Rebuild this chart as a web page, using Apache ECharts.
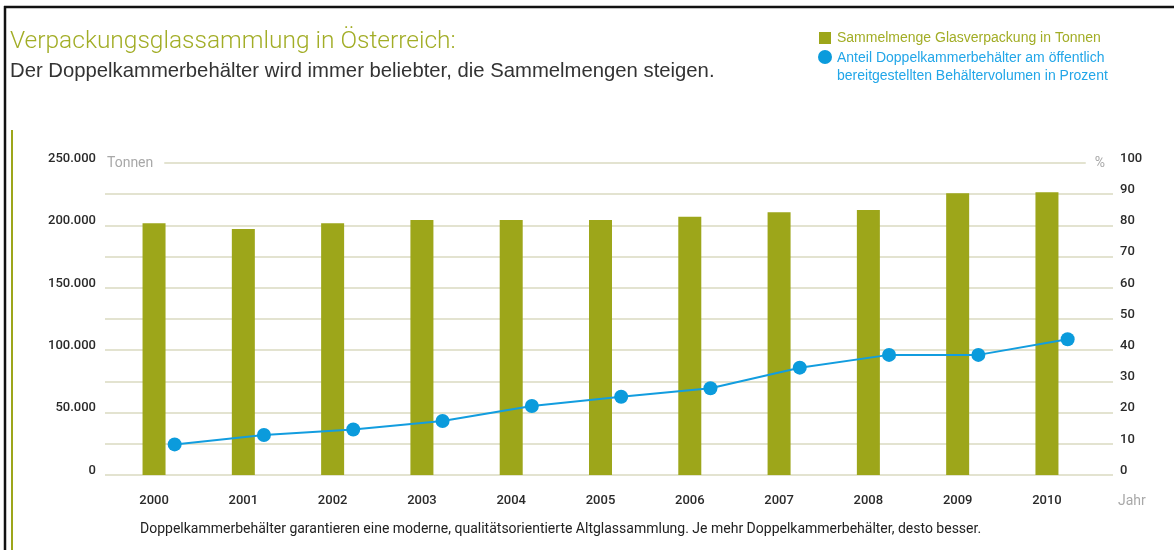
<!DOCTYPE html>
<html>
<head>
<meta charset="utf-8">
<title>Verpackungsglassammlung in Österreich</title>
<script src="https://cdn.jsdelivr.net/npm/echarts@6/dist/echarts.min.js"></script>
<style>
  html, body { margin: 0; padding: 0; background: #fff; }
  #chart { width: 1174px; height: 550px; }
</style>
</head>
<body>
<div id="chart"></div>
<script>
// data
const years = ['2000', '2001', '2002', '2003', '2004', '2005', '2006', '2007', '2008', '2009', '2010'];
const tonnes = [201700, 197100, 201700, 204300, 204300, 204300, 207000, 210500, 212300, 225700, 226500];
const sharePct = [9.8, 12.8, 14.6, 17.3, 22.1, 25.1, 27.8, 34.4, 38.5, 38.5, 43.5];

const OLIVE = '#9da61a';
const BLUE = '#129ddf';
const GRID_LINE = '#dadac0';
const narrow = 'Roboto, sans-serif';

const fmtDE = (v) => String(v).replace(/\B(?=(\d{3})+(?!\d))/g, '.');

const chart = echarts.init(document.getElementById('chart'));

const plotTop = 163, plotBottom = 75;

chart.setOption({
  animation: false,
  grid: [
    // grid 0: gridlines + visible value axes
    { left: 105, right: 61, top: plotTop, bottom: plotBottom },
    // grid 1: bars
    { left: 109.4, right: 82.4, top: plotTop, bottom: plotBottom },
    // grid 2: line, drawn a bit right of the bars
    { left: 130, right: 61.7, top: plotTop, bottom: plotBottom }
  ],
  xAxis: [
    {
      gridIndex: 0, type: 'category', data: years,
      axisLine: { show: false }, axisTick: { show: false }, axisLabel: { show: false },
      name: 'Jahr', nameLocation: 'end', nameGap: 5,
      nameTextStyle: { color: '#a8a8a8', fontFamily: narrow, fontSize: 14, align: 'left', verticalAlign: 'top', padding: [19, 0, 0, 0] }
    },
    {
      gridIndex: 1, type: 'category', data: years,
      axisLine: { show: false }, axisTick: { show: false },
      axisLabel: { color: '#2a2a2a', fontFamily: narrow, fontSize: 13, fontWeight: 500, margin: 19 }
    },
    {
      gridIndex: 2, type: 'category', data: years, show: false
    }
  ],
  yAxis: [
    {
      gridIndex: 0, type: 'value', position: 'left', min: 0, max: 250000, interval: 25000,
      axisLine: { show: false }, axisTick: { show: false },
      splitLine: { show: true, lineStyle: { color: GRID_LINE, width: 1.5 } },
      axisLabel: {
        color: '#2a2a2a', fontFamily: narrow, fontSize: 13, fontWeight: 500, margin: 9,
        verticalAlign: 'bottom', lineHeight: 9,
        formatter: (v) => (v % 50000 === 0 ? fmtDE(v) : '')
      },
      name: 'Tonnen', nameLocation: 'end', nameGap: 0,
      nameTextStyle: {
        color: '#a8a8a8', fontFamily: narrow, fontSize: 14, align: 'left', verticalAlign: 'middle',
        backgroundColor: '#fff', padding: [0, 11, 12, 2]
      }
    },
    {
      gridIndex: 0, type: 'value', position: 'right', min: 0, max: 100, interval: 10,
      axisLine: { show: false }, axisTick: { show: false }, splitLine: { show: false },
      axisLabel: {
        color: '#2a2a2a', fontFamily: narrow, fontSize: 13, fontWeight: 500, margin: 7,
        verticalAlign: 'bottom', lineHeight: 9
      },
      name: '%', nameLocation: 'end', nameGap: 0,
      nameTextStyle: {
        color: '#a8a8a8', fontFamily: narrow, fontSize: 14, align: 'right', verticalAlign: 'middle',
        backgroundColor: '#fff', padding: [0, 8, 12, 9]
      }
    },
    { gridIndex: 1, type: 'value', min: 0, max: 250000, show: false, splitLine: { show: false } },
    { gridIndex: 2, type: 'value', min: 0, max: 100, show: false, splitLine: { show: false } }
  ],
  series: [
    {
      name: 'Sammelmenge Glasverpackung in Tonnen',
      type: 'bar', xAxisIndex: 1, yAxisIndex: 2,
      data: tonnes, barWidth: 23,
      itemStyle: { color: OLIVE }
    },
    {
      name: 'Anteil Doppelkammerbehälter',
      type: 'line', xAxisIndex: 2, yAxisIndex: 3,
      data: sharePct,
      symbol: 'circle', symbolSize: 14,
      lineStyle: { color: BLUE, width: 2 },
      itemStyle: { color: '#0b9bdc' },
      z: 5
    }
  ],
  graphic: [
    // frame
    { type: 'line', shape: { x1: 4, y1: 7, x2: 1174, y2: 7 }, style: { stroke: '#111', lineWidth: 2.5 } },
    { type: 'line', shape: { x1: 5, y1: 6, x2: 5, y2: 550 }, style: { stroke: '#111', lineWidth: 2.5 } },
    { type: 'line', shape: { x1: 12, y1: 130, x2: 12, y2: 550 }, style: { stroke: OLIVE, lineWidth: 2 } },
    // title
    {
      type: 'text', left: 10, top: 29,
      style: { text: 'Verpackungsglassammlung in Österreich:', fill: '#a2ad26', font: '300 24.5px Roboto, sans-serif' }
    },
    {
      type: 'text', left: 10, top: 61,
      style: { text: 'Der Doppelkammerbehälter wird immer beliebter, die Sammelmengen steigen.', fill: '#333', font: '20.3px "Liberation Sans", sans-serif' }
    },
    // legend
    { type: 'rect', shape: { x: 819, y: 32, width: 12, height: 12 }, style: { fill: OLIVE } },
    { type: 'circle', shape: { cx: 825, cy: 57, r: 7 }, style: { fill: '#0b9bdc' } },
    {
      type: 'text', left: 837, top: 31,
      style: { text: 'Sammelmenge Glasverpackung in Tonnen', fill: '#a2ad26', font: '14px "Liberation Sans", sans-serif' }
    },
    {
      type: 'text', left: 837, top: 49,
      style: {
        text: 'Anteil Doppelkammerbehälter am öffentlich\nbereitgestellten Behältervolumen in Prozent',
        fill: '#22a6e8', font: '14px "Liberation Sans", sans-serif', lineHeight: 18
      }
    },
    // caption
    {
      type: 'text', left: 140, top: 522,
      style: {
        text: 'Doppelkammerbehälter garantieren eine moderne, qualitätsorientierte Altglassammlung. Je mehr Doppelkammerbehälter, desto besser.',
        fill: '#222', font: '14px ' + narrow
      }
    }
  ]
});
</script>
</body>
</html>
